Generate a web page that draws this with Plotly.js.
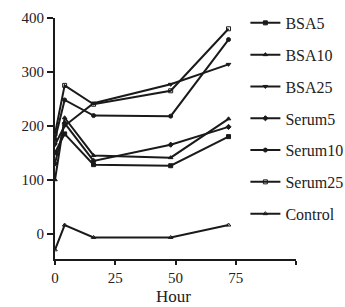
<!DOCTYPE html>
<html>
<head>
<meta charset="utf-8">
<script src="https://cdn.plot.ly/plotly-3.0.1.min.js"></script>
<style>html,body{margin:0;padding:0;background:#fff}#chart{width:345px;height:307px}</style>
</head>
<body>
<div id="chart"></div>
<script>
var hours = [0, 4, 16, 48, 72];
var seriesNames = ["BSA5", "BSA10", "BSA25", "Serum5", "Serum10", "Serum25", "Control"];
var BSA5 = [150, 185, 128, 126, 180];
var BSA10 = [100, 215, 145, 141, 213];
var BSA25 = [165, 200, 242, 277, 314];
var Serum5 = [130, 205, 135, 165, 198];
var Serum10 = [175, 248, 219, 218, 360];
var Serum25 = [185, 275, 240, 265, 380];
var Control = [-30, 16, -7, -7, 16];
var xTickVals = [0, 25, 50, 75, 100];
var xTickText = ["0", "25", "50", "75", ""];
var yTickVals = [0, 100, 200, 300, 400];
var xTitle = "Hour";

var values = [BSA5, BSA10, BSA25, Serum5, Serum10, Serum25, Control];
var symbols = ["square", "triangle-up", "triangle-down", "diamond", "circle", "square-open", "triangle-up-open"];
var serif = "Liberation Serif, Times New Roman, serif";
var traces = values.map(function (v, i) {
  return {
    x: hours, y: v, name: seriesNames[i], type: "scatter", mode: "lines+markers",
    line: {color: "#1a1a1a", width: 2},
    marker: {symbol: symbols[i], size: 4, color: "#1a1a1a", line: {color: "#1a1a1a", width: 1}},
    legendgroup: "g" + i
  };
});

var layout = {
  width: 345, height: 307,
  margin: {l: 55, r: 49, t: 18, b: 48, autoexpand: false},
  paper_bgcolor: "#fff", plot_bgcolor: "#fff",
  font: {family: serif, size: 15, color: "#222"},
  showlegend: true,
  legend: {x: 0.79, xanchor: "left", y: 1.05, yanchor: "top", bgcolor: "rgba(0,0,0,0)",
           font: {family: serif, size: 16, color: "#222"}, tracegroupgap: 8, maxheight: 300},
  annotations: [{
    text: xTitle, xref: "paper", yref: "paper", x: 0.49, y: 0, xanchor: "center", yanchor: "top",
    yshift: -26, showarrow: false, font: {family: serif, size: 17, color: "#222"}
  }],
  xaxis: {
    range: [0, 100], tickvals: xTickVals, ticktext: xTickText,
    showgrid: false, zeroline: false, showline: true, linecolor: "#1a1a1a", linewidth: 2,
    ticks: "outside", ticklen: 4, tickwidth: 2, tickcolor: "#1a1a1a",
    tickfont: {family: serif, size: 15}
  },
  yaxis: {
    range: [-47, 400], tickvals: yTickVals,
    showgrid: false, zeroline: false, showline: true, linecolor: "#1a1a1a", linewidth: 2,
    ticks: "outside", ticklen: 6, tickwidth: 2, tickcolor: "#1a1a1a",
    tickfont: {family: serif, size: 15}
  }
};

Plotly.newPlot("chart", traces, layout, {displayModeBar: false, staticPlot: true});
</script>
</body>
</html>
